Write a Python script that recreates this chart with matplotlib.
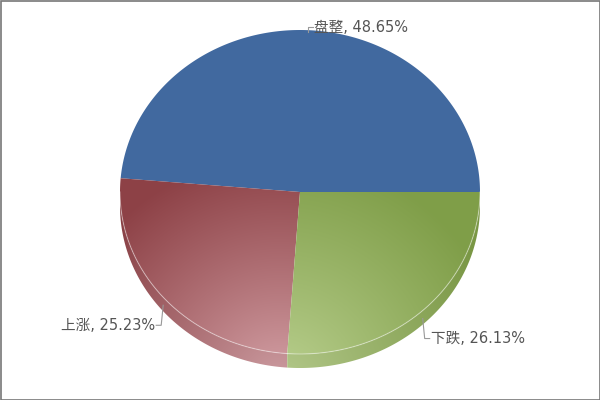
import numpy as np
import matplotlib
matplotlib.use("Agg")
import matplotlib.pyplot as plt
from matplotlib.patches import Polygon, Rectangle

labels = ["盘整", "上涨", "下跌"]
values = [48.65, 25.23, 26.13]

# top-face colours: (dark, light) for the shading
dark_cols = [(0.255, 0.412, 0.624), (0.553, 0.255, 0.275), (0.500, 0.620, 0.285)]
light_cols = [(0.255, 0.412, 0.624), (0.845, 0.650, 0.670), (0.740, 0.825, 0.575)]

W, H = 600, 400
cx, cy, rx, ry, depth = 300, 192, 180, 162, 14
light_pt = (280, 385)

fig = plt.figure(figsize=(6, 4), dpi=100)
ax = fig.add_axes([0, 0, 1, 1])
ax.set_xlim(0, W)
ax.set_ylim(H, 0)
ax.axis("off")

xx, yy = np.meshgrid(np.arange(W) + 0.5, np.arange(H) + 0.5)
dist = np.hypot(xx - light_pt[0], yy - light_pt[1])
tt = np.clip(dist / 230.0, 0, 1) ** 0.9


def shade(i, k=1.0):
    d = np.array(dark_cols[i])
    l = np.array(light_cols[i])
    img = l[None, None, :] * (1 - tt[..., None]) + d[None, None, :] * tt[..., None]
    return np.clip(img * k, 0, 1)


def ell(a):
    a = np.radians(a)
    return cx + rx * np.cos(a), cy - ry * np.sin(a)


fracs = np.array(values) / sum(values)
edges = np.concatenate([[0], np.cumsum(fracs) * 360])

# side walls (front half only)
for i in range(len(values)):
    a0, a1 = max(edges[i], 180), min(edges[i + 1], 360)
    if a1 <= a0:
        continue
    ang = np.linspace(a0, a1, 200)
    x, y = ell(ang)
    pts = np.column_stack([np.concatenate([x, x[::-1]]),
                           np.concatenate([y, y[::-1] + depth])])
    poly = Polygon(pts, closed=True, facecolor="none", edgecolor="none")
    ax.add_patch(poly)
    im = ax.imshow(shade(i, 0.96), extent=(0, W, H, 0), zorder=1, interpolation="bilinear")
    im.set_clip_path(poly)

# top faces
for i in range(len(values)):
    ang = np.linspace(edges[i], edges[i + 1], 400)
    x, y = ell(ang)
    pts = np.column_stack([np.concatenate([[cx], x]), np.concatenate([[cy], y])])
    poly = Polygon(pts, closed=True, facecolor="none", edgecolor="none")
    ax.add_patch(poly)
    im = ax.imshow(shade(i), extent=(0, W, H, 0), zorder=2, interpolation="bilinear")
    im.set_clip_path(poly)
    # thin highlight rim on the front
    a0, a1 = max(edges[i], 180), min(edges[i + 1], 360)
    if a1 > a0:
        ang = np.linspace(a0, a1, 200)
        x, y = ell(ang)
        ax.plot(x, y, color="white", alpha=0.4, lw=0.8, zorder=3)

# labels with leader lines
fnt = ["DejaVu Sans", "Noto Sans CJK SC"]
tcol = "#555555"
lcol = "#999999"
for i, lab in enumerate(labels):
    mid = (edges[i] + edges[i + 1]) / 2
    px, py = ell(mid)
    txt = f"{lab}, {values[i]:.2f}%"
    if np.sin(np.radians(mid)) > 0:
        ly = py - 3
        ax.plot([px, px, px + 5], [py + 2, ly, ly], color=lcol, lw=0.8, zorder=4)
        ax.text(px + 6, ly, txt, ha="left", va="center", fontsize=10.5, color=tcol, family=fnt)
    else:
        py = py + 8
        ly = py + 20
        if np.cos(np.radians(mid)) < 0:
            ax.plot([px, px - 2, px - 7], [py, ly, ly], color=lcol, lw=0.8, zorder=4)
            ax.text(px - 8, ly, txt, ha="right", va="center", fontsize=10.5, color=tcol, family=fnt)
        else:
            ax.plot([px, px + 2, px + 7], [py, ly, ly], color=lcol, lw=0.8, zorder=4)
            ax.text(px + 8, ly, txt, ha="left", va="center", fontsize=10.5, color=tcol, family=fnt)

ax.add_patch(Rectangle((0.5, 0.5), W - 1, H - 1, fill=False, edgecolor="#777777", lw=1.2, zorder=5))

fig.savefig("out.png", dpi=100)
